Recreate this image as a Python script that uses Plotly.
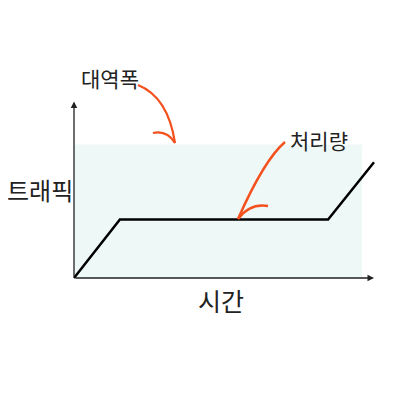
import plotly.graph_objects as go

# Data
time_points = [0, 1.53, 8.47, 10]
throughput = [0, 1.97, 1.97, 3.9]
bandwidth_x = [0, 9.6]
bandwidth_level = 4.5

label_bandwidth = "대역폭"
label_throughput = "처리량"
label_y = "트래픽"
label_x = "시간"

RED = "#f4511e"
FONT = "Noto Sans CJK KR"

fig = go.Figure()

# bandwidth area
fig.add_shape(type="rect", xref="x", yref="y",
              x0=bandwidth_x[0], x1=bandwidth_x[1], y0=0, y1=bandwidth_level,
              fillcolor="#eef8f6", line=dict(width=0), layer="below")

# throughput line
fig.add_trace(go.Scatter(x=time_points, y=throughput, mode="lines",
                         line=dict(color="black", width=2.5), showlegend=False,
                         hoverinfo="skip"))

# axes with arrows
fig.add_annotation(x=0, y=5.95, ax=0, ay=0, xref="x", yref="y", axref="x", ayref="y",
                   showarrow=True, arrowhead=2, arrowsize=1, arrowwidth=1.3,
                   arrowcolor="#222", text="", standoff=0)
fig.add_annotation(x=10, y=0, ax=0, ay=0, xref="x", yref="y", axref="x", ayref="y",
                   showarrow=True, arrowhead=2, arrowsize=1, arrowwidth=1.3,
                   arrowcolor="#222", text="", standoff=0)

# red hand-drawn arrows
fig.add_shape(type="path", xref="x", yref="y",
              path="M 2.133 6.505 Q 3.133 6.10 3.367 4.55",
              line=dict(color=RED, width=2.2))
fig.add_shape(type="path", xref="x", yref="y",
              path="M 2.633 4.887 Q 3.10 4.988 3.367 4.55",
              line=dict(color=RED, width=2.2))
fig.add_shape(type="path", xref="x", yref="y",
              path="M 7.033 4.584 Q 6.333 3.977 5.467 1.989",
              line=dict(color=RED, width=2.5))
fig.add_shape(type="path", xref="x", yref="y",
              path="M 6.467 2.427 Q 5.867 2.528 5.467 1.989",
              line=dict(color=RED, width=2.5))

# labels
fig.add_annotation(x=1.2, y=6.74, xref="x", yref="y", text=label_bandwidth,
                   showarrow=False, font=dict(family=FONT, size=21, color="#222"))
fig.add_annotation(x=8.17, y=4.65, xref="x", yref="y", text=label_throughput,
                   showarrow=False, font=dict(family=FONT, size=21, color="#222"))
fig.add_annotation(x=-1.12, y=2.97, xref="x", yref="y", text=label_y,
                   showarrow=False, font=dict(family=FONT, size=24, color="#222"))
fig.add_annotation(x=4.9, y=-0.74, xref="x", yref="y", text=label_x,
                   showarrow=False, font=dict(family=FONT, size=25, color="#222"))

fig.update_layout(
    width=400, height=400,
    margin=dict(l=0, r=0, t=0, b=0),
    paper_bgcolor="white", plot_bgcolor="white",
    xaxis=dict(range=[-2.2, 11.1333], visible=False, fixedrange=True),
    yaxis=dict(range=[-4.381, 9.100], visible=False, fixedrange=True),
)

fig.write_html("out.html")
